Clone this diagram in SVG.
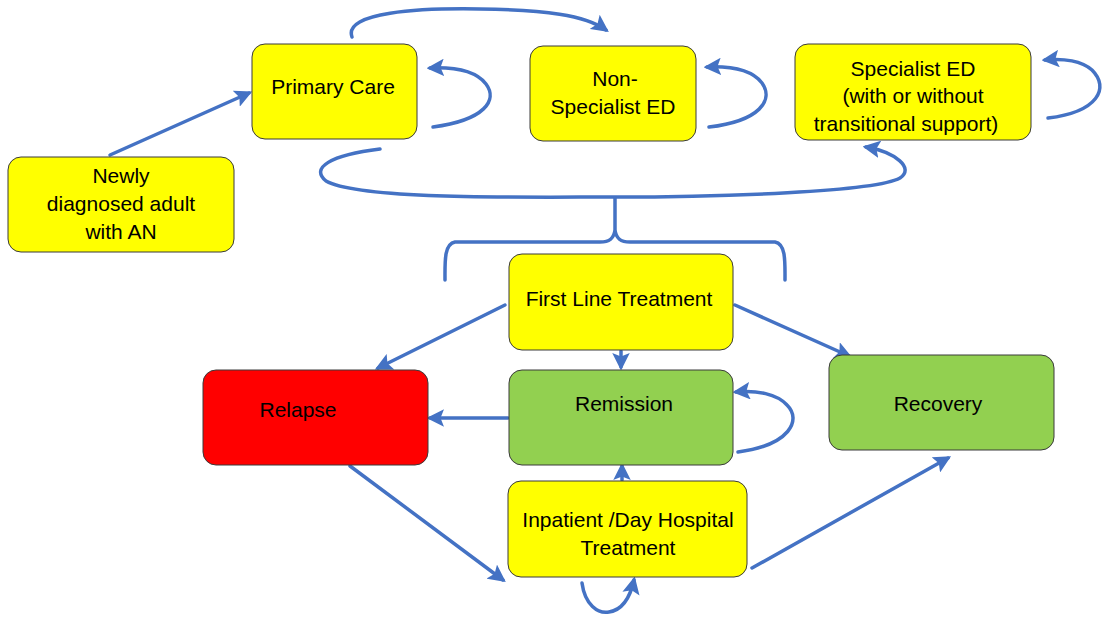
<svg xmlns="http://www.w3.org/2000/svg" width="1104" height="620" viewBox="0 0 1104 620">
<style>
.box{stroke:#3a3a3a;stroke-width:1;}
.y{fill:#ffff00;}
.g{fill:#92d050;}
.r{fill:#ff0000;}
.t{font-family:"Liberation Sans",Arial,sans-serif;font-size:21px;fill:#000;text-anchor:middle;}
.c{fill:none;stroke:#4472c4;stroke-width:3.5;stroke-linecap:round;}
</style>
<defs>
<marker id="ah" viewBox="0 0 10 10" refX="8" refY="5" markerWidth="5" markerHeight="5" orient="auto" markerUnits="strokeWidth">
<path d="M0,0 L10,5 L0,10 L2,5 Z" fill="#4472c4"/>
</marker>
</defs>
<rect width="1104" height="620" fill="#fff"/>

<g id="connectors">
<path class="c" marker-end="url(#ah)" d="M110,155 L249,93"/>
<path class="c" marker-end="url(#ah)" d="M352,37 C343,12 420,8 480,9 C545,10 585,15 606,30"/>
<path class="c" marker-end="url(#ah)" d="M433,127 C485,120 498,100 486,84 C476,71 455,67 430,68"/>
<path class="c" marker-end="url(#ah)" d="M709,127 C760,121 774,100 762,83 C752,70 733,66 707,67"/>
<path class="c" marker-end="url(#ah)" d="M1048,118 C1098,112 1110,88 1092,70 C1082,61 1064,58 1045,60"/>
<path class="c" marker-end="url(#ah)" d="M380,149 C330,155 310,168 326,181 C360,200 520,197 615,197 C720,197 875,192 900,178 C915,168 895,152 866,147"/>
<path class="c" d="M445,280 C445,262 444,244 455,242 L600,242 C610,242 614,238 615,230 L615,198 M615,230 C616,238 620,242 630,242 L775,242 C786,244 785,262 785,280"/>
<path class="c" marker-end="url(#ah)" d="M505,305 L378,368"/>
<path class="c" marker-end="url(#ah)" d="M621,351 L621,367"/>
<path class="c" marker-end="url(#ah)" d="M735,305 L849,356"/>
<path class="c" marker-end="url(#ah)" d="M508,418 L430,418"/>
<path class="c" marker-end="url(#ah)" d="M738,452 C790,445 802,420 787,405 C777,394 757,390 736,392"/>
<path class="c" marker-end="url(#ah)" d="M622,480 L622,466"/>
<path class="c" marker-end="url(#ah)" d="M350,466 L503,580"/>
<path class="c" marker-end="url(#ah)" d="M752,568 L948,458"/>
<path class="c" marker-end="url(#ah)" d="M582,583 C585,605 598,614 609,612 C622,610 630,598 634,580"/>
</g>

<g id="newly">
<rect class="box y" x="8" y="157" width="226" height="95" rx="13"/>
<text class="t" x="121" y="183">Newly</text>
<text class="t" x="121" y="211">diagnosed adult</text>
<text class="t" x="121" y="239">with AN</text>
</g>
<g id="primary">
<rect class="box y" x="252" y="44" width="165" height="95" rx="13"/>
<text class="t" x="333" y="94">Primary Care</text>
</g>
<g id="nonspecialist">
<rect class="box y" x="530" y="46" width="166" height="95" rx="13"/>
<text class="t" x="615" y="86">Non-</text>
<text class="t" x="613" y="114">Specialist ED</text>
</g>
<g id="specialist">
<rect class="box y" x="795" y="44" width="236" height="96" rx="13"/>
<text class="t" x="913" y="76">Specialist ED</text>
<text class="t" x="913" y="103">(with or without</text>
<text class="t" x="906" y="131">transitional support)</text>
</g>
<g id="firstline">
<rect class="box y" x="509" y="254" width="224" height="96" rx="13"/>
<text class="t" x="619" y="306">First Line Treatment</text>
</g>
<g id="relapse">
<rect class="box r" x="203" y="370" width="225" height="95" rx="13"/>
<text class="t" x="298" y="417">Relapse</text>
</g>
<g id="remission">
<rect class="box g" x="509" y="370" width="224" height="95" rx="13"/>
<text class="t" x="624" y="411">Remission</text>
</g>
<g id="recovery">
<rect class="box g" x="829" y="355" width="225" height="95" rx="13"/>
<text class="t" x="938" y="411">Recovery</text>
</g>
<g id="inpatient">
<rect class="box y" x="508" y="481" width="239" height="96" rx="13"/>
<text class="t" x="628" y="527">Inpatient /Day Hospital</text>
<text class="t" x="628" y="555">Treatment</text>
</g>
</svg>
